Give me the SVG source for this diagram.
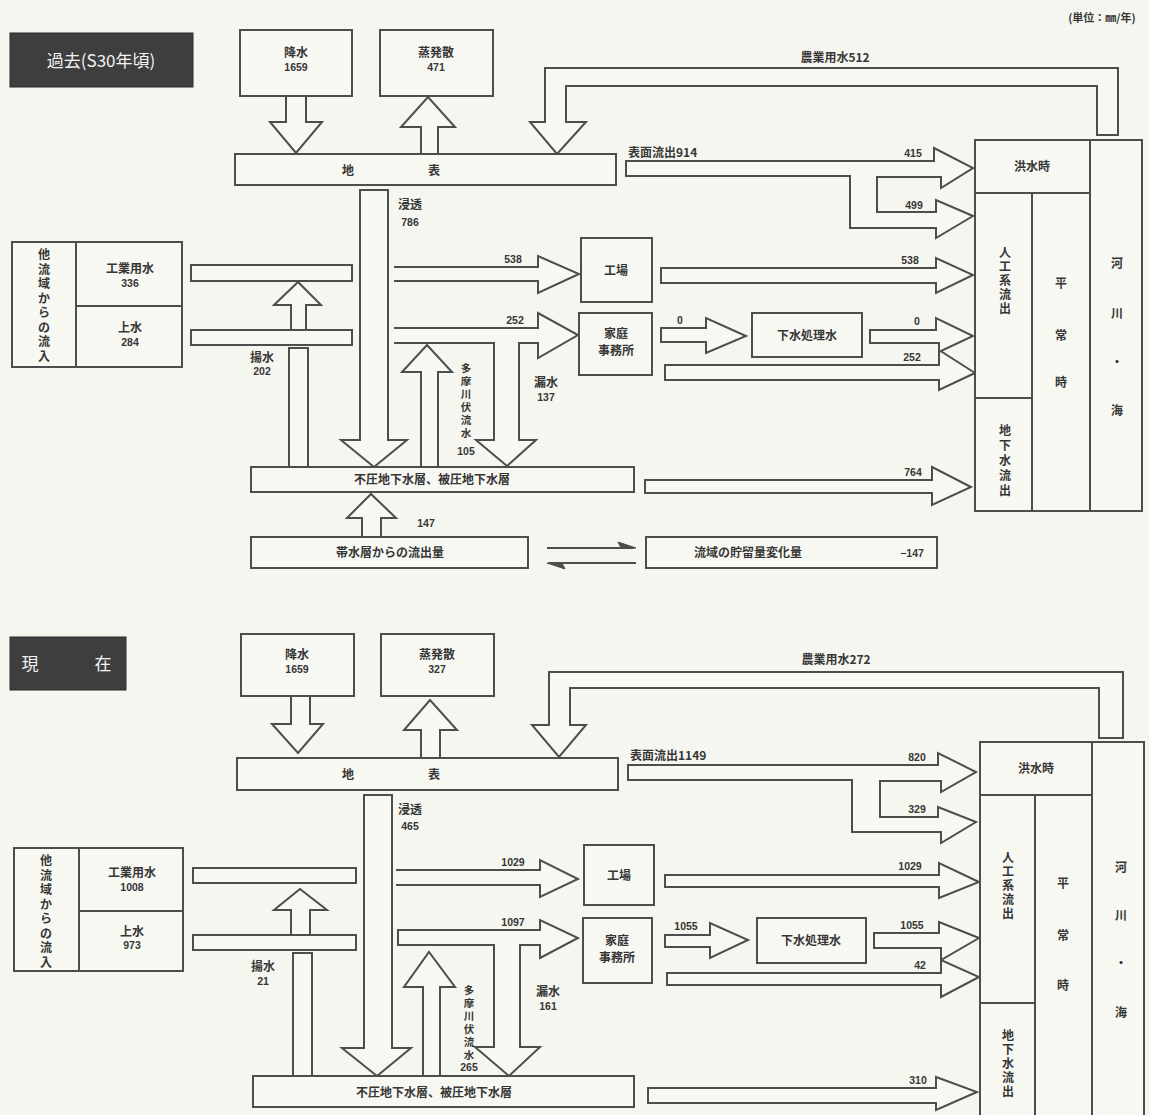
<svg xmlns="http://www.w3.org/2000/svg" width="1149" height="1115" viewBox="0 0 1149 1115">
<style>
.bg{fill:#f6f6f0}
.box{fill:#f8f8f3;stroke:#4d4d4d;stroke-width:2}
.ln{fill:none;stroke:#4d4d4d;stroke-width:2}
.arr{fill:#f8f8f3;stroke:#4d4d4d;stroke-width:2;stroke-linejoin:miter}
.dark{fill:#3e3e3e;stroke:#2a2a2a;stroke-width:1}
.t{font-family:"Noto Sans CJK JP","Noto Sans CJK SC",sans-serif;font-size:12px;font-weight:bold;fill:#363636;text-anchor:middle}
.v{font-size:10.5px}
.n{font-family:"Liberation Sans","Noto Sans CJK JP",sans-serif;font-size:10.5px;font-weight:bold;fill:#363636;text-anchor:middle}
.s{text-anchor:start}
.w{fill:#f2f2f2;font-size:17px;font-weight:normal}
.hd{fill:#4d4d4d;stroke:#4d4d4d;stroke-width:1}
</style>
<rect class="bg" x="0" y="0" width="1149" height="1115"/>

<!-- ================= TOP: 過去 ================= -->
<g id="title-past"><rect class="dark" x="10" y="33" width="183" height="54"/><text class="t w" x="101" y="67">過去(S30年頃)</text></g>
<g id="units"><text class="t" x="1102" y="22" style="font-size:11px">(単位：㎜/年)</text></g>

<g id="connectors-past">
  <path class="arr" d="M286,96 L286,122 L270,122 L296,153 L322,122 L306,122 L306,96"/>
  <path class="arr" d="M421,156 L421,127 L401,127 L428,97 L455,127 L438,127 L438,156"/>
  <path class="arr" d="M1118,135 L1118,68 L545,68 L545,122 L530,122 L557,154 L586,122 L566,122 L566,86 L1097,86 L1097,135 Z"/>
  <path class="arr" d="M626,161 L934,161 L934,148 L973,168 L941,188 L941,177 L877,177 L877,212 L936,212 L936,200 L973,216 L936,238 L936,228 L850,228 L850,176 L626,176 Z"/>
  <path class="arr" d="M291,330 L291,305 L274,305 L298,282 L321,305 L306,305 L306,330"/>
  <path class="arr" d="M289,467 L289,348 L308,348 L308,467"/>
  <path class="arr" d="M394,267 L538,267 L538,256 L579,274 L538,293 L538,281 L394,281"/>
  <path class="arr" d="M394,328 L538,328 L538,313 L578,335 L538,358 L538,343 L519,343 L519,440 L536,440 L507,466 L476,440 L494,440 L494,343 L394,343"/>
  <path class="arr" d="M421,467 L421,372 L402,372 L427,345 L452,372 L438,372 L438,467"/>
  <path class="arr" d="M360,190 L388,190 L388,440 L407,440 L374,467 L341,440 L360,440 Z"/>
  <path class="arr" d="M661,268 L936,268 L936,258 L973,275 L936,293 L936,283 L661,283 Z"/>
  <path class="arr" d="M661,328 L706,328 L706,318 L746,336 L706,353 L706,342 L661,342 Z"/>
  <path class="arr" d="M665,365 L939,365 L939,350 L975,373 L939,390 L939,380 L665,380 Z"/>
  <path class="arr" d="M870,330 L936,330 L936,318 L973,336 L939,352 L939,343 L870,343 Z"/>
  <path class="arr" d="M645,480 L932,480 L932,467 L971,487 L932,505 L932,493 L645,493 Z"/>
  <path class="arr" d="M362,537 L362,518 L347,518 L371,494 L396,518 L381,518 L381,537"/>
  <line class="ln" x1="547" y1="548" x2="634" y2="548"/>
  <path class="hd" d="M636,548 L618,542 L621,548 Z"/>
  <line class="ln" x1="549" y1="563" x2="636" y2="563"/>
  <path class="hd" d="M547,563 L565,569 L562,563 Z"/>
</g>

<g id="labels-past">
  <text class="t" x="835" y="62">農業用水512</text>
  <text class="t s" x="628" y="157">表面流出914</text>
  <text class="n" x="913" y="157">415</text>
  <text class="n" x="914" y="209">499</text>
  <text class="t" x="410" y="209">浸透</text><text class="n" x="410" y="226">786</text>
  <text class="t" x="262" y="362">揚水</text><text class="n" x="262" y="375">202</text>
  <text class="n" x="513" y="263">538</text>
  <text class="n" x="515" y="324">252</text>
  <text class="t v" x="466 466 466 466 466 466" y="372 385 398 411 424 437">多摩川伏流水</text>
  <text class="n" x="466" y="455">105</text>
  <text class="t" x="546" y="387">漏水</text><text class="n" x="546" y="401">137</text>
  <text class="n" x="680" y="324">0</text>
  <text class="n" x="917" y="325">0</text>
  <text class="n" x="910" y="264">538</text>
  <text class="n" x="912" y="361">252</text>
  <text class="n" x="913" y="476">764</text>
  <text class="n" x="426" y="527">147</text>
</g>

<g id="rain-past"><rect class="box" x="240" y="30" width="112" height="66"/><text class="t" x="296" y="57">降水</text><text class="n" x="296" y="71">1659</text></g>
<g id="evap-past"><rect class="box" x="380" y="30" width="113" height="66"/><text class="t" x="436" y="57">蒸発散</text><text class="n" x="436" y="71">471</text></g>
<g id="surface-past"><rect class="box" x="235" y="154" width="381" height="31"/><text class="t" x="348" y="175">地</text><text class="t" x="434" y="175">表</text></g>
<g id="inflow-past">
  <rect class="box" x="12" y="242" width="170" height="125"/>
  <line class="ln" x1="76" y1="242" x2="76" y2="367"/>
  <line class="ln" x1="76" y1="306" x2="182" y2="306"/>
  <text class="t" x="44 44 44 44 44 44 44 44" y="259 273.5 288 302.5 317 331.5 346 360.5">他流域からの流入</text>
  <text class="t" x="130" y="273">工業用水</text><text class="n" x="130" y="287">336</text>
  <text class="t" x="130" y="332">上水</text><text class="n" x="130" y="346">284</text>
</g>
<g id="bar-ind-past"><rect class="box" x="191" y="265" width="161" height="16"/></g>
<g id="bar-tap-past"><rect class="box" x="191" y="330" width="161" height="15"/></g>
<g id="factory-past"><rect class="box" x="581" y="238" width="71" height="64"/><text class="t" x="616" y="275">工場</text></g>
<g id="home-past"><rect class="box" x="579" y="313" width="73" height="62"/><text class="t" x="616" y="338">家庭</text><text class="t" x="616" y="355">事務所</text></g>
<g id="sewage-past"><rect class="box" x="752" y="313" width="110" height="44"/><text class="t" x="807" y="340">下水処理水</text></g>
<g id="gw-past"><rect class="box" x="251" y="467" width="383" height="25"/><text class="t" x="432" y="484">不圧地下水層、被圧地下水層</text></g>
<g id="aquifer-past"><rect class="box" x="251" y="537" width="277" height="31"/><text class="t" x="390" y="557">帯水層からの流出量</text></g>
<g id="storage-past"><rect class="box" x="646" y="537" width="291" height="31"/><text class="t" x="748" y="557">流域の貯留量変化量</text><text class="n" x="912" y="557">−147</text></g>
<g id="river-past">
  <rect class="box" x="975" y="140" width="167" height="371"/>
  <line class="ln" x1="1090" y1="140" x2="1090" y2="511"/>
  <line class="ln" x1="975" y1="193" x2="1090" y2="193"/>
  <line class="ln" x1="1032" y1="193" x2="1032" y2="511"/>
  <line class="ln" x1="975" y1="398" x2="1032" y2="398"/>
  <text class="t" x="1032" y="171">洪水時</text>
  <text class="t" x="1005 1005 1005 1005 1005" y="257 271 285 299 313">人工系流出</text>
  <text class="t" x="1005 1005 1005 1005 1005" y="435 450 465 480 495">地下水流出</text>
  <text class="t" x="1061 1061 1061" y="288 340 387">平常時</text>
  <text class="t" x="1117 1117 1117 1117" y="268 318 367 415">河川・海</text>
</g>

<!-- ================= BOTTOM: 現在 ================= -->
<g id="title-now"><rect class="dark" x="10" y="637" width="116" height="53"/><text class="t w" x="30 103" y="670">現在</text></g>

<g id="connectors-now">
  <path class="arr" d="M291,696 L291,724 L272,724 L298,753 L323,724 L310,724 L310,696"/>
  <path class="arr" d="M421,758 L421,730 L404,730 L430,700 L457,730 L440,730 L440,758"/>
  <path class="arr" d="M1123,738 L1123,672 L549,672 L549,725 L532,725 L559,757 L586,725 L570,725 L570,688 L1099,688 L1099,738 Z"/>
  <path class="arr" d="M628,765 L938,765 L938,753 L976,772 L941,792 L941,781 L880,781 L880,817 L938,817 L938,807 L976,822 L941,843 L941,832 L852,832 L852,780 L628,780 Z"/>
  <path class="arr" d="M291,935 L291,910 L274,910 L300,889 L327,910 L310,910 L310,935"/>
  <path class="arr" d="M293,1076 L293,953 L312,953 L312,1076"/>
  <path class="arr" d="M396,870 L540,870 L540,860 L578,879 L540,897 L540,885 L396,885"/>
  <path class="arr" d="M398,930 L540,930 L540,920 L578,938 L540,958 L540,945 L520,945 L520,1047 L540,1047 L509,1076 L475,1047 L494,1047 L494,945 L398,945 Z"/>
  <path class="arr" d="M423,1076 L423,987 L404,987 L429,952 L455,987 L440,987 L440,1076"/>
  <path class="arr" d="M364,795 L392,795 L392,1048 L411,1048 L377,1076 L342,1048 L364,1048 Z"/>
  <path class="arr" d="M665,875 L939,875 L939,863 L979,882 L939,898 L939,887 L665,887 Z"/>
  <path class="arr" d="M665,935 L710,935 L710,923 L748,940 L710,958 L710,947 L665,947 Z"/>
  <path class="arr" d="M667,973 L941,973 L941,960 L979,977 L941,997 L941,985 L667,985 Z"/>
  <path class="arr" d="M874,933 L939,933 L939,922 L979,938 L941,960 L941,948 L874,948 Z"/>
  <path class="arr" d="M648,1088 L936,1088 L936,1077 L977,1092 L936,1110 L936,1103 L648,1103 Z"/>
</g>

<g id="labels-now">
  <text class="t" x="836" y="664">農業用水272</text>
  <text class="t s" x="630" y="760">表面流出1149</text>
  <text class="n" x="917" y="761">820</text>
  <text class="n" x="917" y="813">329</text>
  <text class="t" x="410" y="814">浸透</text><text class="n" x="410" y="830">465</text>
  <text class="t" x="263" y="971">揚水</text><text class="n" x="263" y="985">21</text>
  <text class="n" x="513" y="866">1029</text>
  <text class="n" x="513" y="926">1097</text>
  <text class="t v" x="469 469 469 469 469 469" y="994 1007 1020 1033 1046 1059">多摩川伏流水</text>
  <text class="n" x="469" y="1071">265</text>
  <text class="t" x="548" y="996">漏水</text><text class="n" x="548" y="1010">161</text>
  <text class="n" x="686" y="930">1055</text>
  <text class="n" x="910" y="870">1029</text>
  <text class="n" x="912" y="929">1055</text>
  <text class="n" x="920" y="969">42</text>
  <text class="n" x="918" y="1084">310</text>
</g>

<g id="rain-now"><rect class="box" x="241" y="634" width="113" height="62"/><text class="t" x="297" y="659">降水</text><text class="n" x="297" y="673">1659</text></g>
<g id="evap-now"><rect class="box" x="381" y="634" width="113" height="62"/><text class="t" x="437" y="659">蒸発散</text><text class="n" x="437" y="673">327</text></g>
<g id="surface-now"><rect class="box" x="237" y="758" width="381" height="32"/><text class="t" x="348" y="779">地</text><text class="t" x="434" y="779">表</text></g>
<g id="inflow-now">
  <rect class="box" x="14" y="848" width="169" height="123"/>
  <line class="ln" x1="79" y1="848" x2="79" y2="971"/>
  <line class="ln" x1="79" y1="911" x2="183" y2="911"/>
  <text class="t" x="46 46 46 46 46 46 46 46" y="865 879.5 894 908.5 923 937.5 952 966.5">他流域からの流入</text>
  <text class="t" x="132" y="877">工業用水</text><text class="n" x="132" y="891">1008</text>
  <text class="t" x="132" y="936">上水</text><text class="n" x="132" y="949">973</text>
</g>
<g id="bar-ind-now"><rect class="box" x="193" y="868" width="163" height="15"/></g>
<g id="bar-tap-now"><rect class="box" x="193" y="935" width="163" height="15"/></g>
<g id="factory-now"><rect class="box" x="584" y="845" width="70" height="60"/><text class="t" x="619" y="880">工場</text></g>
<g id="home-now"><rect class="box" x="583" y="918" width="69" height="65"/><text class="t" x="617" y="945">家庭</text><text class="t" x="617" y="962">事務所</text></g>
<g id="sewage-now"><rect class="box" x="757" y="918" width="109" height="45"/><text class="t" x="811" y="945">下水処理水</text></g>
<g id="gw-now"><rect class="box" x="253" y="1076" width="381" height="31"/><text class="t" x="434" y="1097">不圧地下水層、被圧地下水層</text></g>
<g id="river-now">
  <rect class="box" x="980" y="742" width="164" height="380"/>
  <line class="ln" x1="1092" y1="742" x2="1092" y2="1115"/>
  <line class="ln" x1="980" y1="795" x2="1092" y2="795"/>
  <line class="ln" x1="1035" y1="795" x2="1035" y2="1115"/>
  <line class="ln" x1="980" y1="1003" x2="1035" y2="1003"/>
  <text class="t" x="1036" y="773">洪水時</text>
  <text class="t" x="1008 1008 1008 1008 1008" y="862 876 890 904 918">人工系流出</text>
  <text class="t" x="1008 1008 1008 1008 1008" y="1040 1054 1068 1082 1096">地下水流出</text>
  <text class="t" x="1063 1063 1063" y="888 940 990">平常時</text>
  <text class="t" x="1121 1121 1121 1121" y="872 920 968 1017">河川・海</text>
</g>
</svg>
